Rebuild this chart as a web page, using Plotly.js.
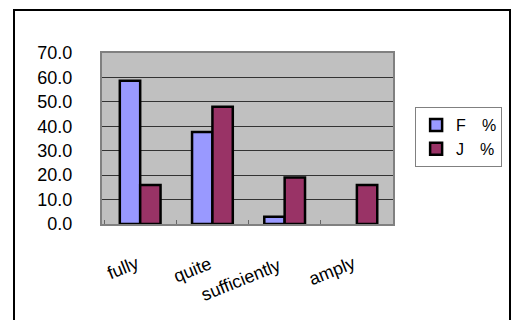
<!DOCTYPE html>
<html><head><meta charset="utf-8">
<script src="https://cdn.plot.ly/plotly-3.0.1.min.js"></script>
<style>
html,body{margin:0;padding:0;background:#fff;}
#frame{position:absolute;left:13px;top:9px;width:494px;height:330px;border:2px solid #000;}
#chart{position:absolute;left:0;top:0;width:514px;height:320px;}
</style></head>
<body>
<div id="frame"></div>
<div id="chart"></div>
<script>
var categories = ["fully", "quite", "sufficiently", "amply"];
var seriesNames = ["F\u3000%", "J\u3000%"];
var valuesF = [58.6, 37.7, 3.0, null];
var valuesJ = [16.0, 48.0, 19.0, 16.0];
var yTicks = [0, 10, 20, 30, 40, 50, 60, 70];

var font = "Liberation Sans, Arial, sans-serif";
var traces = [
  {type: "bar", name: seriesNames[0], x: categories, y: valuesF,
   marker: {color: "#9999FF", line: {color: "#000", width: 2.5}}},
  {type: "bar", name: seriesNames[1], x: categories, y: valuesJ,
   marker: {color: "#993366", line: {color: "#000", width: 2.5}}}
];
var annotations = categories.map(function(c, i){
  return {x: c, xref: "x", y: 0, yref: "y", text: c, showarrow: false,
          textangle: -22, xanchor: "center", yanchor: "middle",
          xshift: [-17, -20, -44, -25][i], yshift: [-44, -46, -56, -47][i],
          font: {family: font, size: 18, color: "#000"}};
});
var layout = {
  width: 514, height: 320,
  margin: {l: 102, r: 121, t: 53, b: 96, pad: 0},
  paper_bgcolor: "rgba(0,0,0,0)",
  plot_bgcolor: "#C0C0C0",
  barmode: "group", bargap: 0.436, bargroupgap: 0,
  showlegend: true,
  legend: {x: 1.076, xanchor: "left", y: 0.684, yanchor: "top",
           bgcolor: "#fff", bordercolor: "#808080", borderwidth: 1,
           font: {family: font, size: 16, color: "#000"},
           tracegroupgap: 4, itemwidth: 30},
  xaxis: {type: "category", showticklabels: false, showgrid: false,
          ticks: "inside", tickson: "boundaries", ticklen: 4, tickcolor: "#666",
          showline: true, linecolor: "#808080", linewidth: 2, mirror: true, fixedrange: true},
  yaxis: {range: [0, 70], tickvals: yTicks, tickformat: ".1f",
          showgrid: true, gridcolor: "#333", gridwidth: 1,
          zeroline: false, showline: true, linecolor: "#808080", linewidth: 2, mirror: true,
          ticks: "", ticklabelstandoff: 24,
          tickfont: {family: font, size: 18, color: "#000"}, fixedrange: true},
  annotations: annotations
};
Plotly.newPlot("chart", traces, layout, {displayModeBar: false, staticPlot: true});
</script>
</body></html>
